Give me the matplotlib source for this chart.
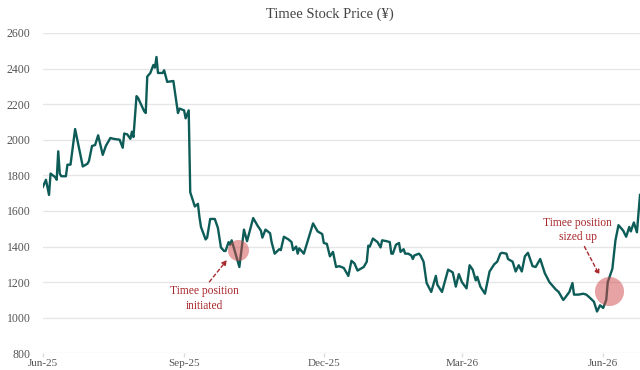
import matplotlib
matplotlib.use("Agg")
import matplotlib.pyplot as plt
import numpy as np
import pandas as pd

# ---- data ----
start_date = "2025-06-01"
day_offsets = [0, 2, 4, 5, 8, 9, 10, 11, 12, 15, 16, 18, 21, 26, 29, 30, 32, 34, 36, 39,
               41, 44, 46, 50, 52, 53, 55, 57, 58, 59, 61, 62, 66, 67, 68, 70, 72, 73, 74, 75,
               78, 79, 81, 85, 88, 89, 92, 93, 95, 96, 99, 101, 102, 103, 106, 107, 109, 112, 114, 116,
               118, 119, 121, 122, 123, 125, 128, 131, 133, 137, 140, 142, 143, 145, 148, 149, 151, 154, 155, 157,
               160, 162, 163, 165, 166, 167, 169, 170, 176, 179, 182, 183, 185, 187, 189, 191, 193, 196, 199, 201,
               203, 205, 209, 211, 212, 213, 215, 218, 220, 221, 224, 226, 227, 228, 230, 232, 233, 235, 236, 238,
               240, 241, 242, 245, 246, 248, 250, 253, 256, 257, 260, 264, 267, 269, 271, 273, 276, 278, 280, 282,
               283, 285, 288, 291, 294, 296, 298, 299, 302, 303, 306, 308, 310, 312, 314, 316, 319, 321, 324, 327,
               330, 334, 336, 339, 340, 343, 345, 346, 349, 352, 354, 356, 359, 361, 363, 365, 367, 368, 371, 373,
               375, 378, 380, 382, 383, 385, 387, 389]
prices = [1735, 1775, 1690, 1810, 1790, 1775, 1935, 1810, 1795, 1795, 1860, 1860, 2060, 1850, 1865, 1880, 1965, 1970, 2025, 1915,
          1965, 2010, 2005, 2000, 1955, 2035, 2030, 2005, 2045, 2015, 2245, 2235, 2160, 2150, 2355, 2375, 2420, 2405, 2465, 2375,
          2375, 2390, 2325, 2330, 2150, 2175, 2165, 2120, 2165, 1705, 1625, 1640, 1565, 1510, 1440, 1450, 1555, 1555, 1505, 1395,
          1375, 1375, 1425, 1410, 1435, 1375, 1285, 1495, 1430, 1560, 1515, 1490, 1450, 1495, 1475, 1425, 1360, 1385, 1380, 1455,
          1440, 1425, 1380, 1400, 1360, 1390, 1370, 1360, 1530, 1485, 1470, 1420, 1415, 1345, 1370, 1285, 1290, 1280, 1235, 1320,
          1305, 1265, 1285, 1315, 1405, 1400, 1445, 1425, 1395, 1435, 1430, 1425, 1360, 1360, 1410, 1420, 1370, 1385, 1360, 1360,
          1350, 1330, 1350, 1360, 1350, 1315, 1195, 1145, 1235, 1185, 1145, 1270, 1255, 1175, 1245, 1200, 1165, 1295, 1270, 1210,
          1230, 1175, 1135, 1260, 1300, 1315, 1360, 1365, 1360, 1330, 1315, 1260, 1295, 1260, 1345, 1365, 1290, 1285, 1330, 1250,
          1200, 1160, 1145, 1100, 1110, 1145, 1195, 1130, 1130, 1135, 1130, 1115, 1090, 1035, 1070, 1055, 1100, 1200, 1275, 1435,
          1520, 1490, 1455, 1510, 1485, 1535, 1480, 1690]
y_ticks = [800, 1000, 1200, 1400, 1600, 1800, 2000, 2200, 2400, 2600]
x_tick_dates = ["2025-06-01", "2025-09-01", "2025-12-01", "2026-03-01", "2026-06-01"]
x_tick_labels = ["Jun-25", "Sep-25", "Dec-25", "Mar-26", "Jun-26"]
title = "Timee Stock Price (¥)"
note1 = "Timee position\ninitiated"
note2 = "Timee position\nsized up"

dates = pd.Timestamp(start_date) + pd.to_timedelta(day_offsets, unit="D")

plt.rcParams["font.family"] = ["Liberation Serif", "DejaVu Serif"]

fig = plt.figure(figsize=(6.4, 3.7), dpi=100)
ax = fig.add_axes([0.067, 0.045, 0.933, 0.866])

line_color = "#0d5c58"
note_color = "#a8282c"

ax.plot(dates, prices, color=line_color, lw=1.7, zorder=3, solid_joinstyle="round")

ax.set_ylim(800, 2600)
ax.set_xlim(dates[0], dates[-1])
ax.set_yticks(y_ticks)
ax.set_yticklabels([str(v) for v in y_ticks])
ax.set_xticks(pd.to_datetime(x_tick_dates))
ax.set_xticklabels(x_tick_labels)

ax.grid(axis="y", color="#e6e6e6", lw=1.0, zorder=0)
ax.grid(axis="x", visible=False)
for s in ax.spines.values():
    s.set_visible(False)
ax.tick_params(axis="y", length=0, pad=9, labelsize=8.5, labelcolor="#555555")
ax.tick_params(axis="x", length=3, color="#dddddd", width=1, pad=1, labelsize=8, labelcolor="#555555")

# annotations
def d(n):
    return pd.Timestamp(start_date) + pd.Timedelta(days=n)

ax.scatter([d(127)], [1380], s=230, color="#d04848", alpha=0.5, lw=0, zorder=4)
ax.scatter([d(369)], [1150], s=440, color="#d04848", alpha=0.5, lw=0, zorder=4)

ax.annotate("", xy=(d(120), 1325), xytext=(d(108.5), 1202),
            arrowprops=dict(arrowstyle="-|>", color=note_color, lw=1.0, ls=(0, (2.5, 2)),
                            mutation_scale=7, shrinkA=0, shrinkB=0), zorder=5)
ax.annotate("", xy=(d(362.6), 1240), xytext=(d(352.8), 1400),
            arrowprops=dict(arrowstyle="-|>", color=note_color, lw=1.0, ls=(0, (2.5, 2)),
                            mutation_scale=7, shrinkA=0, shrinkB=0), zorder=5)
ax.text(d(105), 1108, note1, ha="center", va="center", color=note_color, fontsize=8.3, linespacing=1.3)
ax.text(d(348.5), 1493, note2, ha="center", va="center", color=note_color, fontsize=8.3, linespacing=1.3)

fig.text(0.516, 0.962, title, ha="center", va="center", fontsize=10.5, color="#444444")

fig.savefig("out.png", dpi=100)
